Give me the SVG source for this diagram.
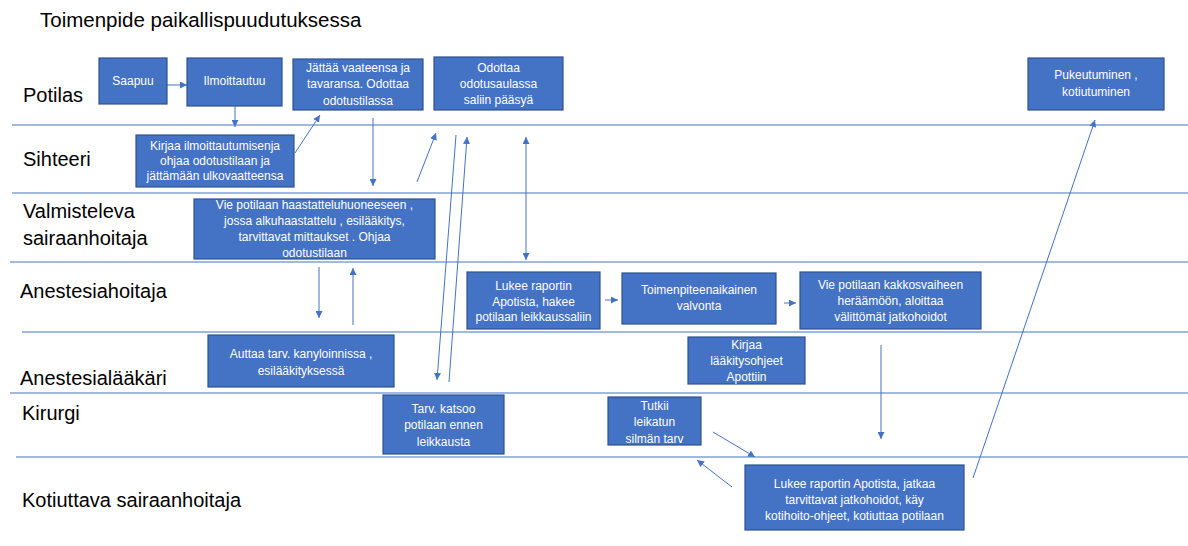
<svg xmlns="http://www.w3.org/2000/svg" width="1188" height="546" viewBox="0 0 1188 546">
<style>
.bg{fill:#ffffff}
.lane{stroke:#4472C4;stroke-width:1.2;fill:none}
.lbl{font-family:"Liberation Sans",Arial,sans-serif;font-size:20px;fill:#000000}
.title{font-family:"Liberation Sans",Arial,sans-serif;font-size:20.5px;fill:#000000}
.box{fill:#4472C4;stroke:#2F528F;stroke-width:1.2}
.t{font-family:"Liberation Sans",Arial,sans-serif;font-size:12px;fill:#ffffff;text-anchor:middle}
.c{stroke:#4472C4;stroke-width:1;fill:none;marker-end:url(#ah)}
.c2{stroke:#4472C4;stroke-width:1;fill:none;marker-end:url(#ah);marker-start:url(#as)}
</style>
<defs>
<marker id="ah" viewBox="0 0 10 10" refX="10" refY="5" markerWidth="7" markerHeight="7" markerUnits="userSpaceOnUse" orient="auto">
<path d="M0,0 L10,5 L0,10 z" fill="#4472C4"/>
</marker>
<marker id="as" viewBox="0 0 10 10" refX="0" refY="5" markerWidth="7" markerHeight="7" markerUnits="userSpaceOnUse" orient="auto">
<path d="M10,0 L0,5 L10,10 z" fill="#4472C4"/>
</marker>
</defs>
<rect class="bg" x="0" y="0" width="1188" height="546"/>
<text class="title" x="40" y="27">Toimenpide paikallispuudutuksessa</text>
<g id="lanes">
<line class="lane" x1="12" y1="125" x2="1188" y2="125"/>
<line class="lane" x1="12" y1="193" x2="1188" y2="193"/>
<line class="lane" x1="10" y1="262" x2="1188" y2="262"/>
<line class="lane" x1="22" y1="332" x2="1188" y2="332"/>
<line class="lane" x1="10" y1="393" x2="1188" y2="393"/>
<line class="lane" x1="16" y1="457" x2="1188" y2="457"/>
</g>
<g id="lane-labels">
<text class="lbl" x="23" y="102">Potilas</text>
<text class="lbl" x="23" y="166">Sihteeri</text>
<text class="lbl" x="23" y="218">Valmisteleva</text>
<text class="lbl" x="23" y="245">sairaanhoitaja</text>
<text class="lbl" x="20" y="298">Anestesiahoitaja</text>
<text class="lbl" x="20" y="385">Anestesialääkäri</text>
<text class="lbl" x="22" y="420">Kirurgi</text>
<text class="lbl" x="22" y="507">Kotiuttava sairaanhoitaja</text>
</g>
<g id="connectors">
<line class="c" x1="167" y1="85" x2="187" y2="85"/>
<line class="c" x1="235" y1="106" x2="235" y2="127"/>
<line class="c" x1="295" y1="153" x2="320" y2="115"/>
<line class="c" x1="373" y1="118" x2="373" y2="186"/>
<line class="c" x1="417" y1="182" x2="436" y2="133"/>
<line class="c" x1="456" y1="135" x2="437" y2="380"/>
<line class="c" x1="449" y1="382" x2="467" y2="137"/>
<line class="c2" x1="526" y1="137" x2="526" y2="260"/>
<line class="c" x1="319" y1="267" x2="319" y2="318"/>
<line class="c" x1="353" y1="325" x2="353" y2="268"/>
<line class="c" x1="605" y1="300" x2="618" y2="300"/>
<line class="c" x1="784" y1="303" x2="796" y2="303"/>
<line class="c" x1="881" y1="345" x2="881" y2="439"/>
<line class="c" x1="713" y1="432" x2="755" y2="457"/>
<line class="c" x1="732" y1="487" x2="697" y2="460"/>
<line class="c" x1="973" y1="478" x2="1095" y2="120"/>
</g>
<g id="n-saapuu">
<rect class="box" x="99" y="58" width="68" height="46"/>
<text class="t" x="133" y="85">Saapuu</text>
</g>
<g id="n-ilmoittautuu">
<rect class="box" x="187" y="58" width="95" height="48"/>
<text class="t" x="234.5" y="85">Ilmoittautuu</text>
</g>
<g id="n-jattaa">
<rect class="box" x="293" y="59" width="130" height="51"/>
<text class="t" x="358" y="72">Jättää vaateensa ja</text>
<text class="t" x="358" y="88">tavaransa. Odottaa</text>
<text class="t" x="358" y="105">odotustilassa</text>
</g>
<g id="n-odottaa">
<rect class="box" x="434" y="57" width="129" height="53"/>
<text class="t" x="498.5" y="72">Odottaa</text>
<text class="t" x="498.5" y="88">odotusaulassa</text>
<text class="t" x="498.5" y="104">saliin pääsyä</text>
</g>
<g id="n-pukeutuminen">
<rect class="box" x="1028" y="58" width="136" height="52"/>
<text class="t" x="1096" y="79">Pukeutuminen ,</text>
<text class="t" x="1096" y="96">kotiutuminen</text>
</g>
<g id="n-kirjaa-ilmo">
<rect class="box" x="136" y="135" width="158" height="52"/>
<text class="t" x="215" y="150">Kirjaa ilmoittautumisenja</text>
<text class="t" x="215" y="165">ohjaa odotustilaan ja</text>
<text class="t" x="215" y="180">jättämään ulkovaatteensa</text>
</g>
<g id="n-vie-haastattelu">
<rect class="box" x="194" y="199" width="241" height="60"/>
<text class="t" x="314.5" y="209">Vie potilaan haastatteluhuoneeseen ,</text>
<text class="t" x="314.5" y="225">jossa alkuhaastattelu , esilääkitys,</text>
<text class="t" x="314.5" y="241">tarvittavat mittaukset . Ohjaa</text>
<text class="t" x="314.5" y="257">odotustilaan</text>
</g>
<g id="n-lukee-hakee">
<rect class="box" x="467" y="272" width="133" height="57"/>
<text class="t" x="533.5" y="290">Lukee raportin</text>
<text class="t" x="533.5" y="306">Apotista, hakee</text>
<text class="t" x="533.5" y="321">potilaan leikkaussaliin</text>
</g>
<g id="n-valvonta">
<rect class="box" x="622" y="273" width="154" height="51"/>
<text class="t" x="699" y="294">Toimenpiteenaikainen</text>
<text class="t" x="699" y="310">valvonta</text>
</g>
<g id="n-kakkosvaihe">
<rect class="box" x="800" y="272" width="181" height="57"/>
<text class="t" x="890.5" y="289">Vie potilaan kakkosvaiheen</text>
<text class="t" x="890.5" y="305">heräämöön, aloittaa</text>
<text class="t" x="890.5" y="321">välittömät jatkohoidot</text>
</g>
<g id="n-auttaa">
<rect class="box" x="208" y="335" width="186" height="52"/>
<text class="t" x="301" y="358">Auttaa tarv. kanyloinnissa ,</text>
<text class="t" x="301" y="375">esilääkityksessä</text>
</g>
<g id="n-laakitysohjeet">
<rect class="box" x="688" y="337" width="117" height="47"/>
<text class="t" x="746.5" y="349">Kirjaa</text>
<text class="t" x="746.5" y="365">lääkitysohjeet</text>
<text class="t" x="746.5" y="381">Apottiin</text>
</g>
<g id="n-tarv-katsoo">
<rect class="box" x="383" y="395" width="121" height="59"/>
<text class="t" x="443.5" y="413">Tarv. katsoo</text>
<text class="t" x="443.5" y="429">potilaan ennen</text>
<text class="t" x="443.5" y="446">leikkausta</text>
</g>
<g id="n-tutkii">
<rect class="box" x="608" y="397" width="93" height="48"/>
<text class="t" x="654.5" y="410">Tutkii</text>
<text class="t" x="654.5" y="426">leikatun</text>
<text class="t" x="654.5" y="443">silmän tarv</text>
</g>
<g id="n-kotiuttaa">
<rect class="box" x="745" y="465" width="219" height="65"/>
<text class="t" x="854.5" y="488">Lukee raportin Apotista, jatkaa</text>
<text class="t" x="854.5" y="504">tarvittavat jatkohoidot, käy</text>
<text class="t" x="854.5" y="520">kotihoito-ohjeet, kotiuttaa potilaan</text>
</g>
</svg>
